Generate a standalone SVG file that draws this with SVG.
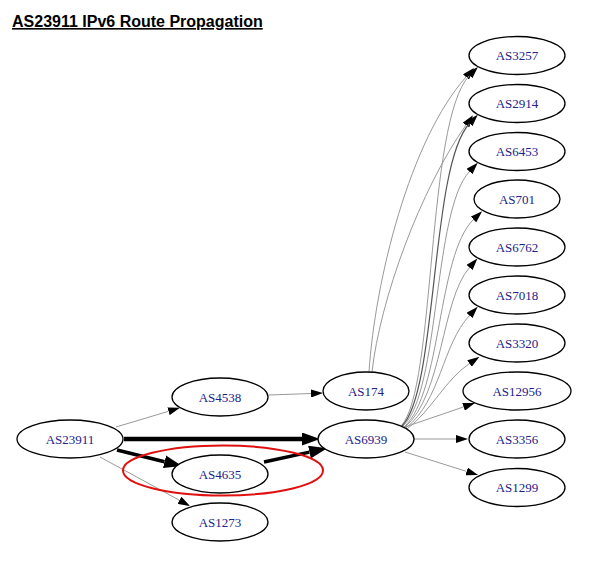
<svg xmlns="http://www.w3.org/2000/svg" width="591" height="561" viewBox="0 0 591 561">
<style>
.n ellipse{fill:#fff;stroke:#000;stroke-width:1.3}
.n text{font-family:"Liberation Serif","Times New Roman",serif;font-size:13px;fill:#22228a;text-anchor:middle}
.e{fill:none;stroke:#999;stroke-width:1}
.e.k{stroke:#000}
.title{font-family:"Liberation Sans",Arial,sans-serif;font-size:16px;font-weight:bold;fill:#000;text-decoration:underline}
</style>
<defs>
<marker id="a" markerUnits="userSpaceOnUse" markerWidth="12" markerHeight="8" viewBox="0 0 12 8" refX="0" refY="4" orient="auto"><path d="M0,0 L12,4 L0,8 z" fill="#000"/></marker>
<marker id="b" markerUnits="userSpaceOnUse" markerWidth="18" markerHeight="13" viewBox="0 0 18 13" refX="0" refY="6.5" orient="auto"><path d="M0,0 L18,6.5 L0,13 z" fill="#000"/></marker>
</defs>
<rect width="591" height="561" fill="#fff"/>
<text class="title" x="12" y="27">AS23911 IPv6 Route Propagation</text>
<g id="edges">
<path class="e" d="M116,427 L168.5,411.3" marker-end="url(#a)"/>
<path class="e" d="M100,457 L179.5,500.3" marker-end="url(#a)"/>
<path class="e" d="M269,395 L311,393.5" marker-end="url(#a)"/>
<path class="e k" style="stroke-width:4.5" d="M124,439 L302,439" marker-end="url(#b)"/>
<path class="e k" style="stroke-width:3.5" d="M117,450 L164.5,461.7" marker-end="url(#b)"/>
<path class="e k" style="stroke-width:3.5" d="M264,462 L309.5,452.1" marker-end="url(#b)"/>
<path class="e" d="M369,372 C375,280 410,140 466,77" marker-end="url(#a)"/>
<path class="e" d="M372,372 C380,300 420,190 466,125" marker-end="url(#a)"/>
<path class="e" d="M401,426 C436,390 426,120 469.5,75.5" marker-end="url(#a)"/>
<path class="e" style="stroke:#555;stroke-width:1.2" d="M402,426 C438,390 430,165 469.5,123.5" marker-end="url(#a)"/>
<path class="e" d="M403,426 C440,392 433,210 469.5,171.5" marker-end="url(#a)"/>
<path class="e" d="M404,427 C442,393 437,255 473.5,219.5" marker-end="url(#a)"/>
<path class="e" d="M405,427 C443,395 441,300 469.5,267.5" marker-end="url(#a)"/>
<path class="e" d="M406,428 C441,400 442,345 469.5,315.5" marker-end="url(#a)"/>
<path class="e" d="M407,429 C432,410 445,380 469.5,363.5" marker-end="url(#a)"/>
<path class="e" d="M405,427 L463.6,406.9" marker-end="url(#a)"/>
<path class="e" d="M414,439 L456,439" marker-end="url(#a)"/>
<path class="e" d="M405,452 L466.6,471.4" marker-end="url(#a)"/>
</g>
<g id="AS23911" class="n"><ellipse cx="70" cy="439" rx="53" ry="19"/><text x="70" y="443.5">AS23911</text></g>
<g id="AS4538" class="n"><ellipse cx="220" cy="397" rx="48" ry="19"/><text x="220" y="401.5">AS4538</text></g>
<g id="AS4635" class="n"><ellipse cx="220" cy="474" rx="48" ry="19"/><text x="220" y="478.5">AS4635</text></g>
<g id="AS1273" class="n"><ellipse cx="220" cy="522" rx="48" ry="19"/><text x="220" y="526.5">AS1273</text></g>
<g id="AS174" class="n"><ellipse cx="366" cy="391" rx="43" ry="19"/><text x="366" y="395.5">AS174</text></g>
<g id="AS6939" class="n"><ellipse cx="366" cy="439" rx="48" ry="19"/><text x="366" y="443.5">AS6939</text></g>
<g id="AS3257" class="n"><ellipse cx="517" cy="55.5" rx="48" ry="19"/><text x="517" y="60">AS3257</text></g>
<g id="AS2914" class="n"><ellipse cx="517" cy="103.5" rx="48" ry="19"/><text x="517" y="108">AS2914</text></g>
<g id="AS6453" class="n"><ellipse cx="517" cy="151.5" rx="48" ry="19"/><text x="517" y="156">AS6453</text></g>
<g id="AS701" class="n"><ellipse cx="517" cy="199" rx="43" ry="19"/><text x="517" y="203.5">AS701</text></g>
<g id="AS6762" class="n"><ellipse cx="517" cy="247" rx="48" ry="19"/><text x="517" y="251.5">AS6762</text></g>
<g id="AS7018" class="n"><ellipse cx="517" cy="295" rx="48" ry="19"/><text x="517" y="299.5">AS7018</text></g>
<g id="AS3320" class="n"><ellipse cx="517" cy="343" rx="48" ry="19"/><text x="517" y="347.5">AS3320</text></g>
<g id="AS12956" class="n"><ellipse cx="517" cy="391" rx="54" ry="19"/><text x="517" y="395.5">AS12956</text></g>
<g id="AS3356" class="n"><ellipse cx="517" cy="439" rx="48" ry="19"/><text x="517" y="443.5">AS3356</text></g>
<g id="AS1299" class="n"><ellipse cx="517" cy="487.5" rx="48" ry="19"/><text x="517" y="492">AS1299</text></g>
<ellipse id="highlight" cx="223" cy="470.5" rx="100" ry="25" fill="none" stroke="#e01010" stroke-width="2"/>
</svg>
